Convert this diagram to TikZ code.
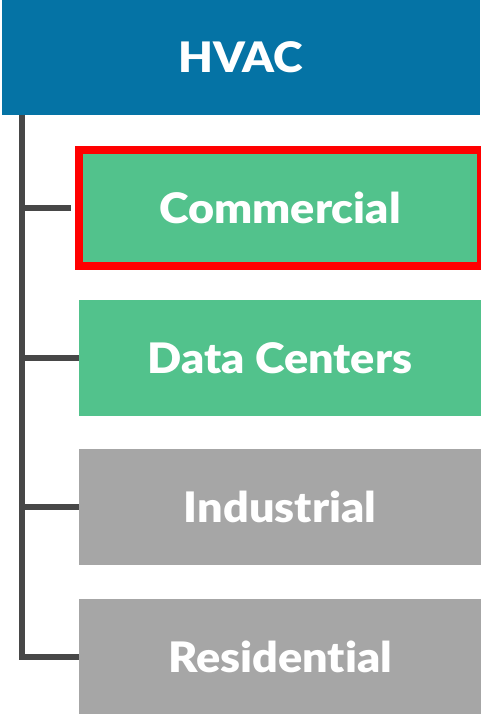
\documentclass[tikz,border=0pt]{standalone}
\usepackage{fontspec}
\setmainfont{Lato}[BoldFont={Lato Black}, BoldFeatures={FakeStretch=1.07}, Ligatures={NoCommon}]
\usetikzlibrary{positioning}

\definecolor{hvacblue}{HTML}{0573A5}
\definecolor{seggreen}{HTML}{52C28C}
\definecolor{seggrey}{HTML}{A6A6A6}
\definecolor{trunkgrey}{HTML}{474747}

\tikzset{
    headbox/.style={rectangle, fill=hvacblue, minimum width=478pt, minimum height=115pt,
        inner sep=0pt, text=white, font=\fontsize{42}{50}\selectfont\bfseries},
    segbox/.style={rectangle, minimum width=402pt, minimum height=116pt,
        inner sep=0pt, text=white, font=\fontsize{42}{50}\selectfont\bfseries},
    branch/.style={draw=trunkgrey, line width=5.5pt, line join=miter}
}

\begin{document}
\begin{tikzpicture}[x=1pt,y=-1pt]

    \useasboundingbox (0,0) rectangle (480,714);

    % header
    \node[headbox] (hvac) at (241,57.5) {HVAC};

    % segments
    \node[segbox, fill=seggreen, draw=red, line width=8pt] (com) at (280,208) {Commercial};
    \node[segbox, fill=seggreen] (dc) at (280,358) {Data Centers};
    \node[segbox, fill=seggrey] (ind) at (280,507) {Industrial};
    \node[segbox, fill=seggrey] (res) at (280,657) {Residential};

    % tree lines
    \coordinate (trunk) at (22,115);
    \draw[branch] (trunk) |- (res.west);
    \draw[branch] (trunk |- com.west) -- ([xshift=-4pt]com.west);
    \draw[branch] (trunk |- dc.west) -- (dc.west);
    \draw[branch] (trunk |- ind.west) -- (ind.west);

\end{tikzpicture}
\end{document}
